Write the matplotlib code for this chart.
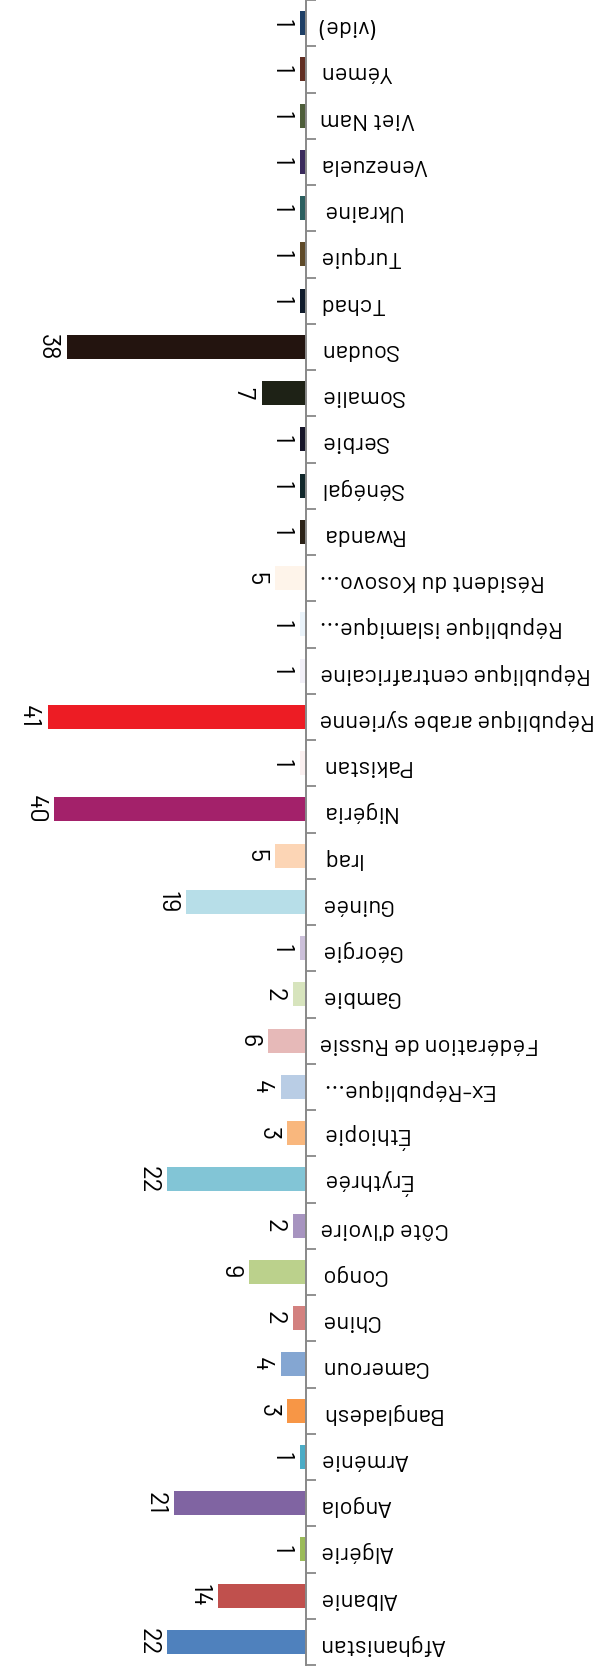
import matplotlib.pyplot as plt
from matplotlib import font_manager
from matplotlib.transforms import offset_copy

# data (Afghanistan at the bottom of the axis, chart is drawn upside-down)
pays = ["Afghanistan", "Albanie", "Algérie", "Angola", "Arménie", "Bangladesh",
        "Cameroun", "Chine", "Congo", "Côte d'Ivoire", "Érythrée", "Éthiopie",
        "Ex-République...", "Fédération de Russie", "Gambie", "Géorgie", "Guinée",
        "Iraq", "Nigéria", "Pakistan", "République arabe syrienne",
        "République centrafricaine", "République islamique...", "Résident du Kosovo...",
        "Rwanda", "Sénégal", "Serbie", "Somalie", "Soudan", "Tchad", "Turquie",
        "Ukraine", "Venezuela", "Viet Nam", "Yémen", "(vide)"]
valeurs = [22, 14, 1, 21, 1, 3, 4, 2, 9, 2, 22, 3, 4, 6, 2, 1, 19, 5, 40, 1, 41,
           1, 1, 5, 1, 1, 1, 7, 38, 1, 1, 1, 1, 1, 1, 1]
couleurs = ["#4f81bd", "#c0504d", "#9bbb59", "#8064a2", "#4bacc6", "#f79646",
            "#84a6d2", "#d3817f", "#bbd18c", "#a794c0", "#82c5d6", "#f9b77d",
            "#b9cde5", "#e6b9b8", "#d7e4bd", "#ccc0da", "#b7dee8", "#fcd5b5",
            "#a3216a", "#fbf0f0", "#ed1c24", "#f2f0f8", "#eaf3fa", "#fef4ea",
            "#2a2116", "#10272a", "#171529", "#1e2216", "#23140f", "#0e1a2a",
            "#5f4a29", "#2a5e5e", "#3a2a5c", "#4e5e3a", "#612e22", "#1e3f66"]

# DIN-like font: Barlow if there, else Roboto Condensed
fichiers = [f.fname for f in font_manager.fontManager.ttflist]
police, t_lab, t_val = None, 17, 18
for cle, tl, tv in [("/Barlow-Regular.ttf", 17.3, 18.5),
                    ("/BarlowSemiCondensed-Regular.ttf", 18.5, 19.5),
                    ("/RobotoCondensed-Regular.ttf", 19.5, 19)]:
    trouves = [f for f in fichiers if f.endswith(cle)]
    if trouves:
        police, t_lab, t_val = trouves[0], tl, tv
        break
if police:
    fp_lab = font_manager.FontProperties(fname=police, size=t_lab)
    fp_val = font_manager.FontProperties(fname=police, size=t_val)
else:
    fp_lab = font_manager.FontProperties(family="DejaVu Sans", size=15.5)
    fp_val = font_manager.FontProperties(family="DejaVu Sans", size=17)

fig = plt.figure(figsize=(5.97, 16.71), dpi=100)
ax = fig.add_axes([0, 6 / 1671, 306 / 597, 1665 / 1671])

y = list(range(len(pays)))
ax.barh(y, valeurs, height=0.52, color=couleurs)

ax.set_xlim(48.6, 0)
ax.set_ylim(-0.5, len(pays) - 0.5)

# tick marks between categories, labels at the centre
ax.set_yticks([i - 0.5 for i in range(len(pays) + 1)])
ax.set_yticklabels([])
ax.set_yticks(y, minor=True)
ax.yaxis.tick_right()
ax.tick_params(axis='y', which='major', length=7, width=1.3, color='#888888')
ax.tick_params(axis='y', which='minor', length=0, pad=10)
ax.set_yticklabels(pays, minor=True, rotation=180, fontproperties=fp_lab)
ax.set_xticks([])

for s in ['top', 'bottom', 'left']:
    ax.spines[s].set_visible(False)
ax.spines['right'].set_color('#888888')
ax.spines['right'].set_linewidth(1.4)

trans = offset_copy(ax.transData, fig=fig, x=-5.5, y=0, units='points')
for yi, v in zip(y, valeurs):
    ax.text(v, yi, str(v), transform=trans, rotation=270,
            ha='right', va='center', fontproperties=fp_val)

fig.savefig("out.png", dpi=100)
